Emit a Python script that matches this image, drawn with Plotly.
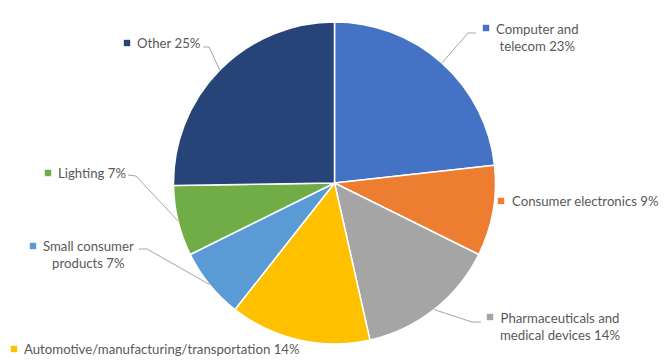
import math
import plotly.graph_objects as go

categories = ["Computer and telecom", "Consumer electronics", "Pharmaceuticals and medical devices",
              "Automotive/manufacturing/transportation", "Small consumer products", "Lighting", "Other"]
values = [23, 9, 14, 14, 7, 7, 25]
label_texts = ["Computer and<br>telecom 23%", "Consumer electronics 9%", "Pharmaceuticals and<br>medical devices 14%",
               "Automotive/manufacturing/transportation 14%", "Small consumer<br>products 7%", "Lighting 7%", "Other 25%"]
colors = ["#4472C4", "#ED7D31", "#A5A5A5", "#FFC000", "#5B9BD5", "#70AD47", "#264478"]

# page body has an 8px margin, so the figure is shrunk by that much
OFF = 8
W, H = 669 - OFF, 360 - OFF
CX, CY, R = 334.5, 183.0, 161.0   # window pixel coordinates

# label layout (window pixels): square centre, text left, text block centre y, leader elbow & end
label_layout = [
    dict(sq=(486, 28), tx=494, ty=37, elbow=(468, 33), end=(476, 33)),
    dict(sq=(501, 201), tx=510, ty=201, elbow=None, end=None),
    dict(sq=(490, 317), tx=498, ty=326, elbow=(472, 322), end=(481, 322)),
    dict(sq=(14, 349), tx=22, ty=349, elbow=None, end=None),
    dict(sq=(33, 246), tx=41, ty=254.5, elbow=(147, 249), end=(139, 249)),
    dict(sq=(48, 173), tx=56, ty=173, elbow=(136, 176), end=(128, 175)),
    dict(sq=(127, 43), tx=135, ty=43, elbow=(209, 47), end=(203, 47)),
]

def px(x):
    return (x - OFF) / W

def py(y):
    return 1 - (y - OFF) / H

fig = go.Figure()
fig.add_trace(go.Pie(
    labels=categories, values=values, sort=False, direction="clockwise", rotation=0,
    marker=dict(colors=colors, line=dict(color="white", width=1.5)),
    textinfo="none", hoverinfo="label+percent", showlegend=False,
    domain=dict(x=[px(CX - R), px(CX + R)], y=[py(CY + R), py(CY - R)]),
))

total = sum(values)
cum = 0
shapes = []
annotations = []
font = dict(family="Lato, Carlito, Calibri, sans-serif", size=13.2, color="#595959")
for v, txt, col, lay in zip(values, label_texts, colors, label_layout):
    mid = (cum + v / 2) / total * 2 * math.pi
    cum += v
    ex = CX + R * math.sin(mid)
    ey = CY - R * math.cos(mid)
    if lay["elbow"] is not None:
        (bx, by), (ux, uy) = lay["elbow"], lay["end"]
        shapes.append(dict(type="path", xref="paper", yref="paper",
                           path=f"M {px(ex)},{py(ey)} L {px(bx)},{py(by)} L {px(ux)},{py(uy)}",
                           line=dict(color="#A6A6A6", width=1)))
    sx, sy = lay["sq"]
    s = 3.2
    shapes.append(dict(type="rect", xref="paper", yref="paper",
                       x0=px(sx - s), x1=px(sx + s), y0=py(sy + s), y1=py(sy - s),
                       fillcolor=col, line=dict(width=0)))
    annotations.append(dict(x=px(lay["tx"]), y=py(lay["ty"]), xref="paper", yref="paper",
                            xanchor="left", yanchor="middle", text=txt, showarrow=False,
                            align="center", font=font))

fig.update_layout(
    width=W, height=H, margin=dict(l=0, r=0, t=0, b=0),
    paper_bgcolor="white", plot_bgcolor="white",
    shapes=shapes, annotations=annotations,
)
fig.write_html("out.html")
